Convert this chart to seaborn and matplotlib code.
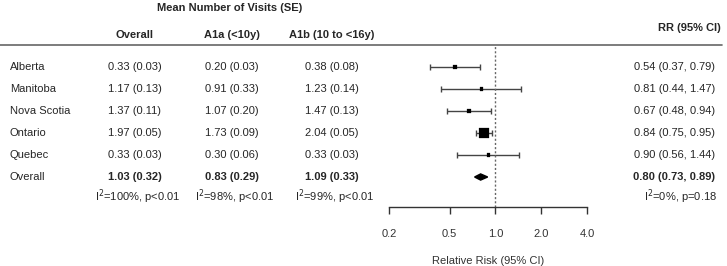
import numpy as np
import pandas as pd
import matplotlib.pyplot as plt
import seaborn as sns

# data
provinces = ['Alberta', 'Manitoba', 'Nova Scotia', 'Ontario', 'Quebec']
overall_visits = ['0.33 (0.03)', '1.17 (0.13)', '1.37 (0.11)', '1.97 (0.05)', '0.33 (0.03)']
a1a_visits = ['0.20 (0.03)', '0.91 (0.33)', '1.07 (0.20)', '1.73 (0.09)', '0.30 (0.06)']
a1b_visits = ['0.38 (0.08)', '1.23 (0.14)', '1.47 (0.13)', '2.04 (0.05)', '0.33 (0.03)']
rr = [0.54, 0.81, 0.67, 0.84, 0.90]
rr_low = [0.37, 0.44, 0.48, 0.75, 0.56]
rr_high = [0.79, 1.47, 0.94, 0.95, 1.44]
weight = [8, 4, 9, 55, 4]

pooled_visits = ['1.03 (0.32)', '0.83 (0.29)', '1.09 (0.33)']
pooled_rr, pooled_low, pooled_high = 0.80, 0.73, 0.89
het_visits = ['I$^2$=100%, p<0.01', 'I$^2$=98%, p<0.01', 'I$^2$=99%, p<0.01']
het_rr = 'I$^2$=0%, p=0.18'
rr_ticks = [0.2, 0.5, 1.0, 2.0, 4.0]

df = pd.DataFrame({'province': provinces, 'rr': rr, 'low': rr_low,
                   'high': rr_high, 'weight': weight})
df['row'] = np.arange(len(df))

sns.set_style('white')
plt.rcParams['font.family'] = ['Liberation Sans', 'DejaVu Sans']
fs = 8

W, H = 727, 266
fig = plt.figure(figsize=(W / 100, H / 100), dpi=100)

# background axes for the table text: x in pixels, y in row units
row0, step = 67, 22
bg = fig.add_axes([0, 0, 1, 1])
bg.set_xlim(0, W)
bg.set_ylim((H - row0) / step, -row0 / step)
bg.axis('off')

# forest plot axes
top_px, bot_px = 45, 207
ax = fig.add_axes([389 / W, 1 - bot_px / H, (587 - 389) / W, (bot_px - top_px) / H])
ax.set_xscale('log')
ax.set_xlim(0.2, 4.0)
ax.set_ylim((bot_px - row0) / step, (top_px - row0) / step)
ax.patch.set_alpha(0)

ax.errorbar(df['rr'], df['row'], xerr=[df['rr'] - df['low'], df['high'] - df['rr']],
            fmt='none', ecolor='#444444', elinewidth=1, capsize=2, capthick=1)
sns.scatterplot(data=df, x='rr', y='row', size='weight', sizes=(5, 55), marker='s',
                color='black', edgecolor='black', legend=False, ax=ax, zorder=3)
n = len(provinces)
dh = 0.14
ax.fill([pooled_low, pooled_rr, pooled_high, pooled_rr], [n, n - dh, n, n + dh],
        color='black', zorder=3)
ax.axvline(1.0, color='#666666', ls=(0, (1.5, 1.5)), lw=1)

ax.set_xticks(rr_ticks)
ax.set_xticklabels([f'{t:.1f}' for t in rr_ticks], fontsize=fs, color='#333333')
ax.xaxis.set_minor_locator(plt.NullLocator())
ax.set_yticks([])
ax.set_ylabel('')
for s in ['top', 'left', 'right']:
    ax.spines[s].set_visible(False)
ax.spines['bottom'].set_color('#333333')
ax.spines['bottom'].set_linewidth(1)
ax.tick_params(axis='x', direction='out', length=5, width=1, color='#333333', pad=11, bottom=True)
ax.set_xlabel('Relative Risk (95% CI)', fontsize=fs, color='#333333', labelpad=12)

# header
hy = (35 - row0) / step
bg.text(230, (8 - row0) / step, 'Mean Number of Visits (SE)', ha='center', va='center',
        fontsize=fs, fontweight='bold')
col_x = [135, 232, 332]
for x, lab in zip(col_x, ['Overall', 'A1a (<10y)', 'A1b (10 to <16y)']):
    bg.text(x, hy, lab, ha='center', va='center', fontsize=fs, fontweight='bold')
bg.text(721, (28 - row0) / step, 'RR (95% CI)', ha='right', va='center',
        fontsize=fs, fontweight='bold')
bg.plot([0, 722], [(45 - row0) / step] * 2, color='#666666', lw=1.2)

# rows
for i, p in enumerate(provinces):
    bg.text(10, i, p, ha='left', va='center', fontsize=fs)
    for x, col in zip(col_x, [overall_visits, a1a_visits, a1b_visits]):
        bg.text(x, i, col[i], ha='center', va='center', fontsize=fs)
    bg.text(715, i, f'{rr[i]:.2f} ({rr_low[i]:.2f}, {rr_high[i]:.2f})',
            ha='right', va='center', fontsize=fs)

bg.text(10, n, 'Overall', ha='left', va='center', fontsize=fs)
for x, v in zip(col_x, pooled_visits):
    bg.text(x, n, v, ha='center', va='center', fontsize=fs, fontweight='bold')
bg.text(715, n, f'{pooled_rr:.2f} ({pooled_low:.2f}, {pooled_high:.2f})',
        ha='right', va='center', fontsize=fs, fontweight='bold')

hr = (197 - row0) / step
for x, v in zip(col_x, het_visits):
    bg.text(x + 3, hr, v, ha='center', va='center', fontsize=fs)
bg.text(717, hr, het_rr, ha='right', va='center', fontsize=fs)

fig.savefig('out.png', dpi=100)
